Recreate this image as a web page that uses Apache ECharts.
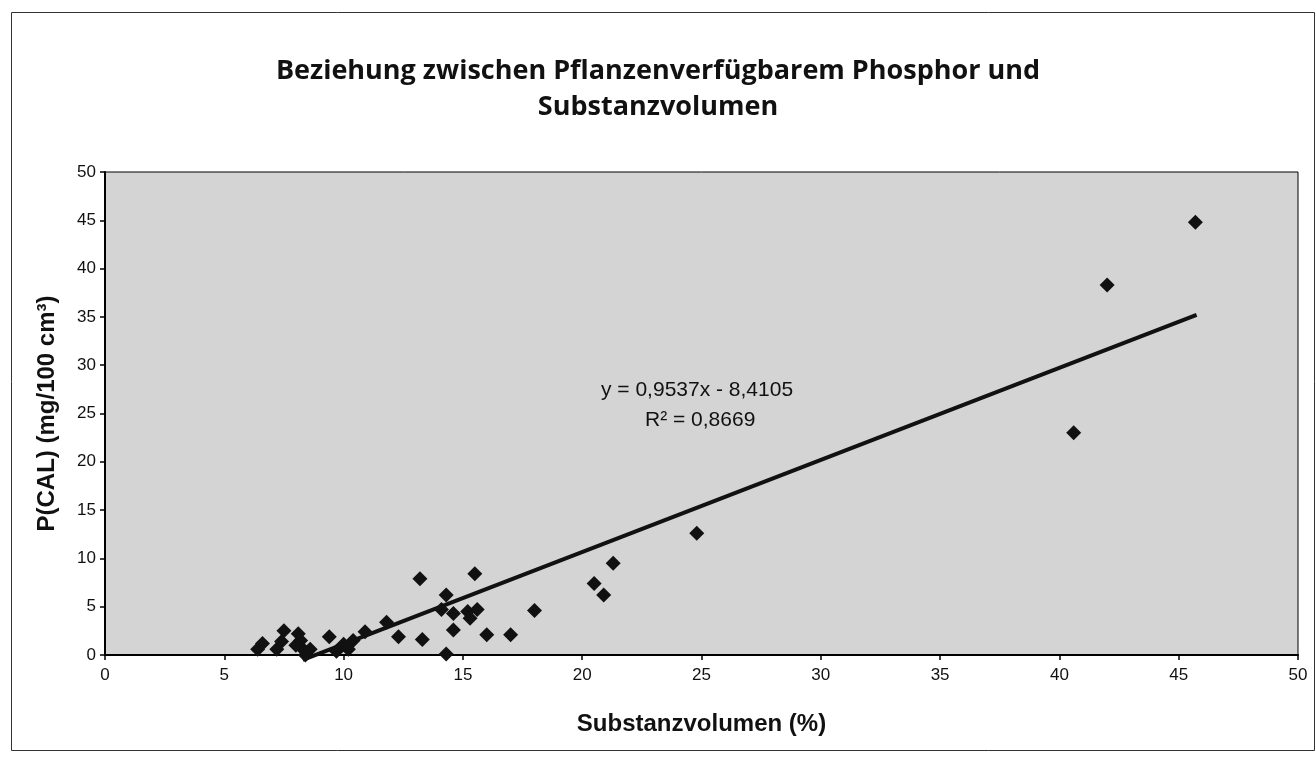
<!DOCTYPE html>
<html>
<head>
<meta charset="utf-8">
<style>html,body{margin:0;padding:0;background:#fff;}#c{width:1316px;height:757px;}</style>
<script src="https://cdn.jsdelivr.net/npm/echarts@6/dist/echarts.min.js"></script>
</head>
<body>
<div id="c"></div>
<script>
// Substanzvolumen (%)
const xValues = [6.4, 6.6, 7.2, 7.4, 7.5, 8.1, 8.2, 8.3, 8.6, 8.4, 8.0, 9.4, 9.7, 10.0, 10.4, 10.2, 10.9, 11.8, 12.3, 13.2, 13.3, 14.3, 14.1, 14.6, 14.6, 14.3, 15.5, 15.2, 15.3, 15.6, 16.0, 17.0, 18.0, 20.5, 20.9, 21.3, 24.8, 40.6, 42.0, 45.7];
// P(CAL) (mg/100 cm3)
const yValues = [0.6, 1.2, 0.6, 1.4, 2.5, 2.2, 1.5, 0.6, 0.6, 0.0, 1.0, 1.9, 0.4, 1.1, 1.5, 0.6, 2.4, 3.4, 1.9, 7.9, 1.6, 6.2, 4.7, 4.3, 2.6, 0.1, 8.4, 4.5, 3.8, 4.7, 2.1, 2.1, 4.6, 7.4, 6.2, 9.5, 12.6, 23.0, 38.3, 44.8];
const trendSlope = 0.9537;
const trendIntercept = -8.4105;
const trendXRange = [8.29, 45.75];
const axisTicks = [0, 5, 10, 15, 20, 25, 30, 35, 40, 45, 50];

const points = xValues.map((x, i) => [x, yValues[i]]);
const trend = trendXRange.map(x => [x, trendSlope * x + trendIntercept]);
const fmt = v => v.toFixed(4).replace('.', ',');

const chart = echarts.init(document.getElementById('c'));
chart.setOption({
  animation: false,
  backgroundColor: '#ffffff',
  title: {
    text: 'Beziehung zwischen Pflanzenverfügbarem Phosphor und\nSubstanzvolumen',
    left: 'center',
    top: 48,
    textStyle: {fontFamily: 'Open Sans', fontWeight: 'bold', fontSize: 27, lineHeight: 36, color: '#111'}
  },
  grid: {left: 105, right: 18, top: 172, bottom: 102, show: true, backgroundColor: '#d4d4d4', borderColor: '#000', borderWidth: 1},
  xAxis: {
    type: 'value', min: axisTicks[0], max: axisTicks[axisTicks.length - 1], interval: 5,
    name: 'Substanzvolumen (%)', nameLocation: 'middle', nameGap: 57,
    nameTextStyle: {fontFamily: 'Liberation Sans', fontWeight: 'bold', fontSize: 24, color: '#111'},
    axisLine: {lineStyle: {color: '#000', width: 2}},
    axisTick: {show: true, length: 5, lineStyle: {color: '#000', width: 1.5}},
    axisLabel: {fontFamily: 'Liberation Sans', fontSize: 17, color: '#111', margin: 12},
    splitLine: {show: false}
  },
  yAxis: {
    type: 'value', min: axisTicks[0], max: axisTicks[axisTicks.length - 1], interval: 5,
    name: 'P(CAL) (mg/100 cm³)', nameLocation: 'middle', nameGap: 46,
    nameTextStyle: {fontFamily: 'Liberation Sans', fontWeight: 'bold', fontSize: 24, color: '#111'},
    axisLine: {show: true, lineStyle: {color: '#000', width: 2}},
    axisTick: {show: true, length: 5, lineStyle: {color: '#000', width: 1.5}},
    axisLabel: {fontFamily: 'Liberation Sans', fontSize: 17, color: '#111', margin: 9},
    splitLine: {show: false}
  },
  graphic: [
    {type: 'rect', left: 9, top: 10, shape: {width: 1303, height: 738}, style: {fill: 'none', stroke: '#333', lineWidth: 1}, silent: true, z: -1},
    {type: 'text', left: 601, top: 380, style: {text: 'y = ' + fmt(trendSlope) + 'x - ' + fmt(-trendIntercept), fontFamily: 'Liberation Sans', fontSize: 21, fill: '#111'}, z: 10},
    {type: 'text', left: 645, top: 410, style: {text: 'R² = 0,8669', fontFamily: 'Liberation Sans', fontSize: 21, fill: '#111'}, z: 10}
  ],
  series: [
    {
      type: 'line', data: trend, symbol: 'none', clip: false,
      lineStyle: {color: '#111', width: 4}, z: 3
    },
    {
      type: 'scatter', data: points, symbol: 'diamond', symbolSize: 15,
      itemStyle: {color: '#111111', opacity: 1}, z: 4
    }
  ]
});
</script>
</body>
</html>
